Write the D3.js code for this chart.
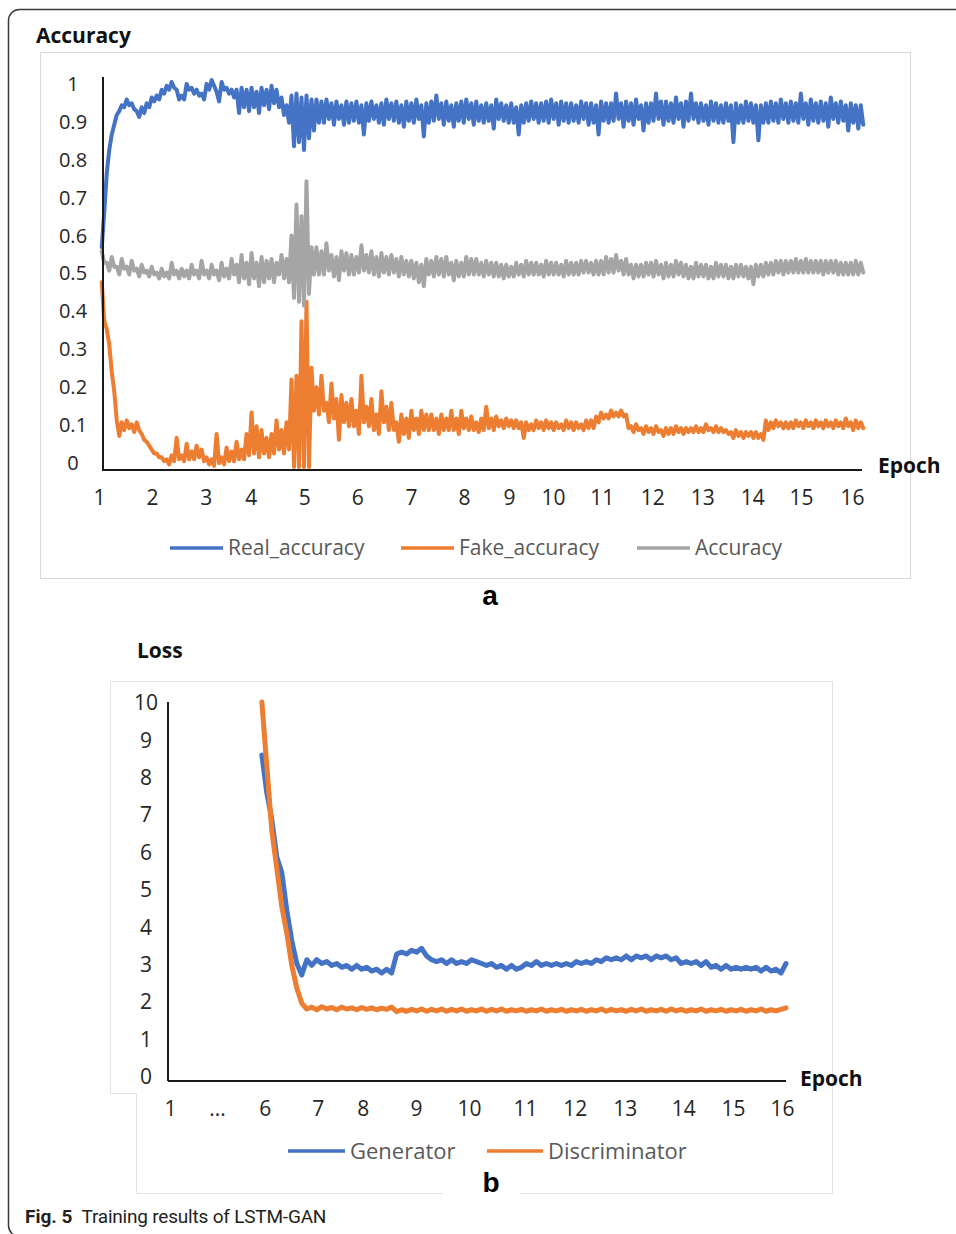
<!DOCTYPE html>
<html>
<head>
<meta charset="utf-8">
<title>Training results of LSTM-GAN</title>
<script src="https://cdn.jsdelivr.net/npm/d3@7"></script>
<style>
body { margin: 0; background: #fff; }
.tick text { font-family: "Open Sans", sans-serif; fill: #262626; }
.axis-line { stroke: #1a1a1a; stroke-width: 2; }
.series { fill: none; stroke-linejoin: round; stroke-linecap: round; }
.legend text { font-family: "Open Sans", sans-serif; fill: #595959; }
.title { font-family: "Open Sans", sans-serif; font-weight: 700; font-size: 21px; fill: #111; }
.panel { font-family: "Liberation Sans", Arial, sans-serif; font-weight: 700; font-size: 28px; fill: #000; }
.caption { font-family: Roboto, sans-serif; font-size: 19px; fill: #231f20; }
</style>
</head>
<body>
<script>
// ---- panel a : accuracy ----
// the curves are very noisy, so each one is read as two readings per
// sample column: first and second edge of its band (top/bottom)
var epochLabels = ["1","2","3","4","5","6","7","8","9","10","11","12","13","14","15","16"];
// where each epoch label sits, in sample index units
var epochPos = [-0.8, 9.8, 20.6, 29.6, 40.3, 50.9, 61.7, 72.3, 81.3, 90.1, 99.9, 110, 120, 130, 139.8, 150];
var accTicks = [0, 0.1, 0.2, 0.3, 0.4, 0.5, 0.6, 0.7, 0.8, 0.9, 1];

var realAccHi = [
  0.57, 0.76, 0.86, 0.91, 0.935, 0.95, 0.94, 0.92, 0.93, 0.94,
  0.955, 0.96, 0.975, 0.985, 0.995, 0.975, 0.96, 0.99, 0.98, 0.975,
  0.965, 0.99, 1.0, 0.97, 0.995, 0.98, 0.975, 0.975, 0.98, 0.975,
  0.98, 0.97, 0.98, 0.975, 0.985, 0.975, 0.955, 0.935, 0.96, 0.965,
  0.955, 0.96, 0.95, 0.95, 0.945, 0.95, 0.94, 0.945, 0.935, 0.945,
  0.94, 0.945, 0.935, 0.94, 0.945, 0.935, 0.94, 0.95, 0.94, 0.945,
  0.935, 0.945, 0.94, 0.95, 0.935, 0.94, 0.945, 0.96, 0.94, 0.945,
  0.935, 0.94, 0.945, 0.95, 0.94, 0.945, 0.935, 0.94, 0.935, 0.95,
  0.94, 0.935, 0.94, 0.93, 0.935, 0.94, 0.945, 0.94, 0.94, 0.945,
  0.95, 0.94, 0.945, 0.94, 0.94, 0.935, 0.945, 0.94, 0.94, 0.935,
  0.945, 0.94, 0.94, 0.965, 0.94, 0.945, 0.94, 0.95, 0.935, 0.94,
  0.94, 0.965, 0.945, 0.945, 0.94, 0.955, 0.94, 0.945, 0.965, 0.94,
  0.94, 0.935, 0.945, 0.94, 0.935, 0.94, 0.935, 0.94, 0.935, 0.945,
  0.94, 0.935, 0.935, 0.94, 0.945, 0.94, 0.95, 0.94, 0.945, 0.94,
  0.965, 0.94, 0.95, 0.94, 0.945, 0.94, 0.955, 0.94, 0.945, 0.935,
  0.94, 0.935, 0.935
];
var realAccLo = [
  0.66, 0.82, 0.885, 0.92, 0.93, 0.935, 0.925, 0.905, 0.915, 0.93,
  0.945, 0.95, 0.965, 0.975, 0.98, 0.95, 0.95, 0.975, 0.965, 0.96,
  0.95, 0.975, 0.985, 0.945, 0.975, 0.965, 0.955, 0.915, 0.93, 0.92,
  0.93, 0.915, 0.935, 0.925, 0.94, 0.93, 0.91, 0.89, 0.83, 0.84,
  0.82, 0.85, 0.87, 0.89, 0.89, 0.9, 0.885, 0.9, 0.885, 0.89,
  0.895, 0.89, 0.86, 0.895, 0.9, 0.89, 0.885, 0.9, 0.895, 0.89,
  0.88, 0.895, 0.89, 0.9, 0.855, 0.89, 0.895, 0.9, 0.885, 0.895,
  0.88, 0.895, 0.89, 0.9, 0.885, 0.895, 0.89, 0.895, 0.875, 0.9,
  0.895, 0.89, 0.89, 0.86, 0.89, 0.895, 0.9, 0.89, 0.895, 0.89,
  0.9, 0.885, 0.895, 0.89, 0.895, 0.89, 0.9, 0.885, 0.89, 0.86,
  0.895, 0.89, 0.895, 0.9, 0.88, 0.895, 0.885, 0.9, 0.87, 0.89,
  0.895, 0.9, 0.885, 0.895, 0.89, 0.9, 0.88, 0.895, 0.9, 0.89,
  0.895, 0.885, 0.895, 0.89, 0.89, 0.895, 0.84, 0.89, 0.89, 0.895,
  0.89, 0.845, 0.89, 0.89, 0.895, 0.89, 0.9, 0.89, 0.895, 0.89,
  0.9, 0.885, 0.895, 0.89, 0.895, 0.88, 0.9, 0.89, 0.895, 0.87,
  0.89, 0.875, 0.885
];

var fakeAccHi = [
  0.48, 0.36, 0.25, 0.125, 0.12, 0.125, 0.115, 0.12, 0.09, 0.07,
  0.05, 0.04, 0.03, 0.025, 0.035, 0.08, 0.035, 0.065, 0.045, 0.06,
  0.05, 0.03, 0.025, 0.09, 0.03, 0.055, 0.045, 0.07, 0.05, 0.09,
  0.145, 0.11, 0.1, 0.08, 0.09, 0.125, 0.1, 0.12, 0.23, 0.24,
  0.38, 0.43, 0.26, 0.21, 0.24, 0.17, 0.22, 0.18, 0.19, 0.17,
  0.18, 0.15, 0.24, 0.16, 0.18, 0.14, 0.2, 0.16, 0.17, 0.12,
  0.14, 0.13, 0.15, 0.13, 0.15, 0.14, 0.14, 0.13, 0.14, 0.13,
  0.15, 0.13, 0.15, 0.13, 0.135, 0.12, 0.13, 0.16, 0.13, 0.135,
  0.125, 0.13, 0.125, 0.125, 0.12, 0.12, 0.115, 0.125, 0.12, 0.125,
  0.12, 0.12, 0.115, 0.125, 0.12, 0.12, 0.115, 0.125, 0.125, 0.135,
  0.145, 0.14, 0.15, 0.145, 0.15, 0.14, 0.11, 0.115, 0.105, 0.11,
  0.105, 0.11, 0.1, 0.105, 0.105, 0.11, 0.105, 0.105, 0.105, 0.11,
  0.105, 0.115, 0.105, 0.11, 0.105, 0.1, 0.095, 0.1, 0.095, 0.095,
  0.095, 0.095, 0.09, 0.125, 0.12, 0.125, 0.12, 0.12, 0.12, 0.125,
  0.12, 0.125, 0.12, 0.125, 0.12, 0.125, 0.12, 0.125, 0.12, 0.13,
  0.12, 0.125, 0.12
];
var fakeAccLo = [
  0.38, 0.32, 0.2, 0.085, 0.1, 0.105, 0.095, 0.1, 0.075, 0.06,
  0.04, 0.03, 0.02, 0.012, 0.02, 0.025, 0.02, 0.025, 0.025, 0.03,
  0.02, 0.012, 0.008, 0.015, 0.012, 0.02, 0.02, 0.025, 0.025, 0.035,
  0.04, 0.03, 0.04, 0.03, 0.04, 0.05, 0.04, 0.05, 0.005, 0.005,
  0.005, 0.005, 0.15, 0.14, 0.15, 0.12, 0.13, 0.075, 0.12, 0.11,
  0.11, 0.09, 0.12, 0.11, 0.1, 0.09, 0.12, 0.1, 0.1, 0.07,
  0.09, 0.08, 0.1, 0.09, 0.1, 0.1, 0.1, 0.09, 0.1, 0.1,
  0.1, 0.09, 0.105, 0.1, 0.1, 0.095, 0.1, 0.105, 0.1, 0.11,
  0.105, 0.11, 0.105, 0.105, 0.08, 0.1, 0.1, 0.105, 0.1, 0.105,
  0.1, 0.105, 0.1, 0.105, 0.1, 0.105, 0.1, 0.105, 0.105, 0.12,
  0.13, 0.13, 0.135, 0.135, 0.135, 0.105, 0.095, 0.1, 0.09, 0.095,
  0.09, 0.095, 0.085, 0.09, 0.09, 0.095, 0.09, 0.095, 0.095, 0.095,
  0.095, 0.1, 0.095, 0.095, 0.095, 0.09, 0.08, 0.085, 0.08, 0.085,
  0.08, 0.08, 0.075, 0.1, 0.105, 0.11, 0.105, 0.105, 0.105, 0.11,
  0.105, 0.11, 0.105, 0.11, 0.105, 0.11, 0.105, 0.11, 0.105, 0.11,
  0.1, 0.105, 0.105
];

var accHi = [
  0.56, 0.53, 0.545, 0.52, 0.54, 0.52, 0.535, 0.515, 0.525, 0.51,
  0.52, 0.505, 0.515, 0.505, 0.53, 0.51, 0.515, 0.51, 0.525, 0.51,
  0.535, 0.51, 0.525, 0.51, 0.53, 0.515, 0.54, 0.525, 0.55, 0.53,
  0.555, 0.53, 0.545, 0.535, 0.54, 0.53, 0.55, 0.54, 0.6, 0.68,
  0.65, 0.74, 0.57, 0.57, 0.56, 0.58, 0.55, 0.545, 0.56, 0.555,
  0.55, 0.545, 0.575, 0.55, 0.56, 0.545, 0.555, 0.545, 0.55, 0.54,
  0.545, 0.535, 0.535, 0.53, 0.525, 0.54, 0.535, 0.545, 0.54, 0.545,
  0.53, 0.535, 0.53, 0.545, 0.54, 0.54, 0.53, 0.535, 0.53, 0.53,
  0.525, 0.525, 0.52, 0.53, 0.525, 0.535, 0.53, 0.53, 0.525, 0.535,
  0.53, 0.53, 0.525, 0.535, 0.53, 0.53, 0.535, 0.535, 0.53, 0.535,
  0.535, 0.545, 0.54, 0.55, 0.535, 0.54, 0.525, 0.525, 0.525, 0.53,
  0.53, 0.535, 0.525, 0.53, 0.525, 0.535, 0.53, 0.525, 0.52, 0.53,
  0.525, 0.525, 0.52, 0.53, 0.525, 0.525, 0.52, 0.525, 0.525, 0.52,
  0.52, 0.525, 0.525, 0.53, 0.53, 0.535, 0.535, 0.535, 0.535, 0.54,
  0.535, 0.54, 0.535, 0.535, 0.535, 0.535, 0.535, 0.535, 0.53, 0.53,
  0.53, 0.535, 0.53
];
var accLo = [
  0.53, 0.51, 0.52, 0.5, 0.515, 0.5, 0.51, 0.495, 0.505, 0.495,
  0.5, 0.49, 0.495, 0.49, 0.5, 0.49, 0.495, 0.49, 0.5, 0.49,
  0.5, 0.49, 0.5, 0.485, 0.495, 0.49, 0.5, 0.48, 0.49, 0.475,
  0.49, 0.47, 0.48, 0.49, 0.48, 0.5, 0.49, 0.48, 0.44, 0.43,
  0.42, 0.45, 0.5, 0.5, 0.5, 0.51, 0.495, 0.485, 0.51, 0.5,
  0.5, 0.505, 0.51, 0.505, 0.5, 0.495, 0.505, 0.5, 0.505, 0.495,
  0.5, 0.495, 0.49, 0.48, 0.47, 0.5, 0.495, 0.5, 0.495, 0.5,
  0.485, 0.495, 0.495, 0.5, 0.5, 0.5, 0.495, 0.5, 0.495, 0.495,
  0.49, 0.495, 0.495, 0.5, 0.495, 0.5, 0.5, 0.5, 0.495, 0.5,
  0.5, 0.5, 0.495, 0.5, 0.5, 0.5, 0.505, 0.505, 0.5, 0.5,
  0.5, 0.505, 0.505, 0.51, 0.5, 0.5, 0.49, 0.495, 0.495, 0.5,
  0.495, 0.5, 0.49, 0.495, 0.495, 0.5, 0.495, 0.49, 0.49, 0.495,
  0.495, 0.49, 0.49, 0.495, 0.495, 0.49, 0.49, 0.495, 0.495, 0.49,
  0.475, 0.495, 0.495, 0.5, 0.5, 0.505, 0.5, 0.505, 0.505, 0.505,
  0.505, 0.505, 0.505, 0.505, 0.5, 0.505, 0.505, 0.5, 0.5, 0.5,
  0.5, 0.5, 0.505
];

// ---- panel b : loss ----
var lossEpochLabels = ["1", "...", "6", "7", "8", "9", "10", "11", "12", "13", "14", "15", "16"];
var lossEpochPos = [-18.4, -9, 0.6, 11.2, 20.2, 30.9, 41.5, 52.7, 62.7, 72.7, 84.4, 94.4, 104.2];
var lossTicks = [0, 1, 2, 3, 4, 5, 6, 7, 8, 9, 10];

var generatorLoss = [
  8.6, 7.6, 6.9, 5.9, 5.5, 4.5, 3.7, 3.1, 2.8, 3.2,
  3.05, 3.2, 3.1, 3.15, 3.05, 3.1, 3.0, 3.05, 2.95, 3.05,
  2.95, 3.0, 2.9, 2.95, 2.85, 2.95, 2.85, 3.35, 3.4, 3.35,
  3.45, 3.4, 3.5, 3.3, 3.2, 3.15, 3.2, 3.1, 3.2, 3.1,
  3.15, 3.1, 3.2, 3.15, 3.1, 3.05, 3.1, 3.0, 3.05, 2.95,
  3.05, 2.95, 3.0, 3.1, 3.05, 3.15, 3.05, 3.1, 3.05, 3.1,
  3.05, 3.1, 3.05, 3.15, 3.1, 3.15, 3.1, 3.2, 3.15, 3.25,
  3.2, 3.25, 3.2, 3.3, 3.2, 3.3, 3.25, 3.3, 3.2, 3.3,
  3.25, 3.3, 3.2, 3.25, 3.1, 3.15, 3.1, 3.15, 3.05, 3.15,
  3.0, 3.05, 2.95, 3.05, 2.95, 3.0, 2.95, 3.0, 2.95, 3.0,
  2.9, 3.0, 2.9, 2.95, 2.85, 3.1
];

var discriminatorLoss = [
  10, 8.3, 6.6, 5.6, 4.6, 3.9, 3.05, 2.45, 2.05, 1.9,
  1.95, 1.88, 1.96, 1.9, 1.94, 1.88, 1.95, 1.9, 1.93, 1.88,
  1.94, 1.89, 1.93, 1.88, 1.92, 1.89, 1.95, 1.83, 1.88, 1.84,
  1.89, 1.85, 1.9, 1.84, 1.89, 1.85, 1.9, 1.84, 1.89, 1.85,
  1.9, 1.84, 1.88, 1.85, 1.9, 1.84, 1.89, 1.85, 1.9, 1.84,
  1.88, 1.85, 1.89, 1.84, 1.88, 1.85, 1.9, 1.84, 1.88, 1.85,
  1.89, 1.84, 1.88, 1.85, 1.89, 1.84, 1.88, 1.85, 1.9, 1.84,
  1.89, 1.85, 1.88, 1.84, 1.89, 1.85, 1.9, 1.84, 1.88, 1.85,
  1.89, 1.84, 1.9, 1.85, 1.89, 1.84, 1.88, 1.85, 1.9, 1.84,
  1.88, 1.85, 1.89, 1.84, 1.88, 1.85, 1.89, 1.84, 1.88, 1.85,
  1.9, 1.84, 1.88, 1.85, 1.89, 1.93
];

var BLUE = "#4472c4", ORANGE = "#ed7d31", GREY = "#a5a5a5";

var svg = d3.select("body").append("svg")
    .attr("width", 956)
    .attr("height", 1234);

// outer figure frame
svg.append("rect")
    .attr("x", 8.5).attr("y", 9.5)
    .attr("width", 1000).attr("height", 1227)
    .attr("rx", 11)
    .attr("fill", "none")
    .attr("stroke", "#3a3a3a")
    .attr("stroke-width", 1.5);

function drawSeries(g, x, y, values, color, width) {
  var line = d3.line()
    .x(function(d, i) { return x(i); })
    .y(function(d) { return y(d); });
  g.append("path")
    .datum(values)
    .attr("class", "series")
    .attr("stroke", color)
    .attr("stroke-width", width)
    .attr("d", line);
}

// noisy curve: zig-zag between the two band readings of each column
function drawBand(g, x, y, hi, lo, color) {
  var pts = [];
  hi.forEach(function(h, i) {
    pts.push({ t: i - 0.25, v: h });
    pts.push({ t: i + 0.25, v: lo[i] });
  });
  var line = d3.line()
    .x(function(d) { return x(d.t); })
    .y(function(d) { return y(d.v); });
  g.append("path")
    .datum(pts)
    .attr("class", "series")
    .attr("stroke", color)
    .attr("stroke-width", 4)
    .attr("d", line);
}

function drawLegend(g, items, cy, size) {
  var lg = g.append("g").attr("class", "legend");
  items.forEach(function(it) {
    lg.append("line")
      .attr("x1", it.x0).attr("x2", it.x1)
      .attr("y1", cy).attr("y2", cy)
      .attr("stroke", it.color)
      .attr("stroke-width", 3.5);
    lg.append("text")
      .attr("x", it.x1 + 5)
      .attr("y", cy)
      .attr("dy", "0.35em")
      .style("font-size", size + "px")
      .text(it.name);
  });
}

// ---------- panel a ----------
function renderAccuracy() {
  var g = svg.append("g");

  g.append("rect")
    .attr("x", 40.5).attr("y", 52.5)
    .attr("width", 870).attr("height", 526)
    .attr("fill", "#fff")
    .attr("stroke", "#d9d9d9");

  var n = realAccHi.length;
  var x = d3.scaleLinear().domain([0, n - 1]).range([103, 862]);
  var y = d3.scaleLinear().domain([0, 1]).range([469, 80]);
  // tick labels in the source sit slightly off the value grid
  var yLab = y.copy().range([463, 84]);

  var yAxis = g.append("g")
    .attr("transform", "translate(" + x(0) + ",0)")
    .call(d3.axisLeft(yLab).tickValues(accTicks).tickSize(0).tickFormat(d3.format("")));
  yAxis.select(".domain").remove();
  yAxis.selectAll("text")
    .attr("x", -30)
    .attr("text-anchor", "middle")
    .style("font-size", "20px");

  var xAxis = g.append("g")
    .attr("transform", "translate(0," + (y(0) + 1) + ")")
    .call(d3.axisBottom(x).tickValues(epochPos).tickSize(0)
      .tickFormat(function(d, i) { return epochLabels[i]; }));
  xAxis.select(".domain").remove();
  xAxis.selectAll("text")
    .attr("y", 35).attr("dy", null)
    .style("font-size", "21px");

  drawBand(g, x, y, realAccHi, realAccLo, BLUE);
  drawBand(g, x, y, fakeAccHi, fakeAccLo, ORANGE);
  drawBand(g, x, y, accHi, accLo, GREY);

  g.append("line").attr("class", "axis-line")
    .attr("x1", x(0)).attr("x2", x(0))
    .attr("y1", y(0) + 2).attr("y2", y(1) - 3);
  g.append("line").attr("class", "axis-line")
    .attr("x1", x(0)).attr("x2", x(n - 1))
    .attr("y1", y(0) + 1).attr("y2", y(0) + 1);

  g.append("text").attr("class", "title").attr("x", 36).attr("y", 43).text("Accuracy");
  g.append("text").attr("class", "title").attr("x", 878).attr("y", 473).text("Epoch");

  drawLegend(g, [
    { name: "Real_accuracy", color: BLUE, x0: 170, x1: 223 },
    { name: "Fake_accuracy", color: ORANGE, x0: 401, x1: 454 },
    { name: "Accuracy", color: GREY, x0: 637, x1: 690 }
  ], 548, 21);

  g.append("text").attr("class", "panel")
    .attr("x", 490).attr("y", 605)
    .attr("text-anchor", "middle")
    .text("a");
}

// ---------- panel b ----------
function renderLoss() {
  var g = svg.append("g");

  g.append("path")
    .attr("d", "M136.5,1193.5V1093.5H110.5V681.5H832.5V1193.5H520 M443,1193.5H136.5")
    .attr("fill", "none")
    .attr("stroke", "#e3e3e3");

  var x = d3.scaleLinear().domain([-18.8, generatorLoss.length - 1]).range([168, 786]);
  var y = d3.scaleLinear().domain([0, 10]).range([1081, 702]);
  var yLab = y.copy().range([1077, 703]);

  var yAxis = g.append("g")
    .attr("transform", "translate(" + x(-18.8) + ",0)")
    .call(d3.axisLeft(yLab).tickValues(lossTicks).tickSize(0));
  yAxis.select(".domain").remove();
  yAxis.selectAll("text")
    .attr("x", -22)
    .attr("text-anchor", "middle")
    .style("font-size", "21px");

  var xAxis = g.append("g")
    .attr("transform", "translate(0," + y(0) + ")")
    .call(d3.axisBottom(x).tickValues(lossEpochPos).tickSize(0)
      .tickFormat(function(d, i) { return lossEpochLabels[i]; }));
  xAxis.select(".domain").remove();
  xAxis.selectAll("text")
    .attr("y", 35).attr("dy", null)
    .style("font-size", "21px");

  drawSeries(g, x, y, generatorLoss, BLUE, 5);
  drawSeries(g, x, y, discriminatorLoss, ORANGE, 5);

  g.append("line").attr("class", "axis-line")
    .attr("x1", x(-18.8)).attr("x2", x(-18.8))
    .attr("y1", y(0)).attr("y2", y(10));
  g.append("line").attr("class", "axis-line")
    .attr("x1", x(-18.8)).attr("x2", x(generatorLoss.length - 1))
    .attr("y1", y(0)).attr("y2", y(0));

  g.append("text").attr("class", "title").attr("x", 137).attr("y", 658).text("Loss");
  g.append("text").attr("class", "title").attr("x", 800).attr("y", 1086).text("Epoch");

  drawLegend(g, [
    { name: "Generator", color: BLUE, x0: 288, x1: 345 },
    { name: "Discriminator", color: ORANGE, x0: 487, x1: 543 }
  ], 1151, 22);

  g.append("text").attr("class", "panel")
    .attr("x", 491).attr("y", 1192)
    .attr("text-anchor", "middle")
    .text("b");
}

renderAccuracy();
renderLoss();

// caption
var cap = svg.append("text").attr("class", "caption").attr("x", 25).attr("y", 1223);
cap.append("tspan").style("font-weight", 700).text("Fig. 5");
cap.append("tspan").attr("dx", 9).style("letter-spacing", "-0.2px").text("Training results of LSTM-GAN");
</script>
</body>
</html>
